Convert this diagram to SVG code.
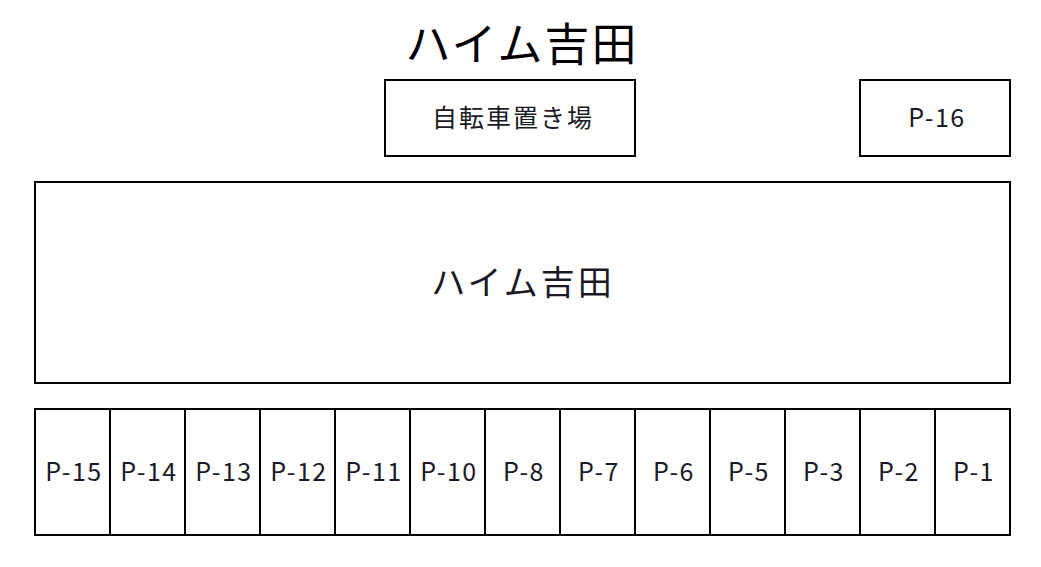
<svg xmlns="http://www.w3.org/2000/svg" width="1041" height="567" viewBox="0 0 1041 567">
<style>
rect{fill:#fff;stroke:#000;stroke-width:2}
text{font-family:"Noto Sans CJK JP","Noto Sans",sans-serif;fill:#1a1a24;text-anchor:middle;dominant-baseline:central}
.l{font-size:25px;letter-spacing:2px}
.b{font-size:34px;letter-spacing:3px}
.p{font-size:25px;letter-spacing:1.5px}
.t{font-size:45px;letter-spacing:2px;fill:#000}
</style>
<rect width="1041" height="567" style="stroke:none"/>
<text class="t" x="522" y="41">ハイム吉田</text>
<g id="bike"><rect x="385" y="80" width="250" height="76"/><text class="l" x="513" y="116">自転車置き場</text></g>
<g id="p16"><rect x="860" y="80" width="150" height="76"/><text class="p" x="937" y="116">P-16</text></g>
<g id="building"><rect x="35" y="182" width="975" height="201"/><text class="b" x="523" y="280">ハイム吉田</text></g>
<g id="parking">
<g id="p15"><rect x="35" y="409" width="75" height="126"/><text class="p" x="74" y="470">P-15</text></g>
<g id="p14"><rect x="110" y="409" width="75" height="126"/><text class="p" x="149" y="470">P-14</text></g>
<g id="p13"><rect x="185" y="409" width="75" height="126"/><text class="p" x="224" y="470">P-13</text></g>
<g id="p12"><rect x="260" y="409" width="75" height="126"/><text class="p" x="299" y="470">P-12</text></g>
<g id="p11"><rect x="335" y="409" width="75" height="126"/><text class="p" x="374" y="470">P-11</text></g>
<g id="p10"><rect x="410" y="409" width="75" height="126"/><text class="p" x="449" y="470">P-10</text></g>
<g id="p8"><rect x="485" y="409" width="75" height="126"/><text class="p" x="524" y="470">P-8</text></g>
<g id="p7"><rect x="560" y="409" width="75" height="126"/><text class="p" x="599" y="470">P-7</text></g>
<g id="p6"><rect x="635" y="409" width="75" height="126"/><text class="p" x="674" y="470">P-6</text></g>
<g id="p5"><rect x="710" y="409" width="75" height="126"/><text class="p" x="749" y="470">P-5</text></g>
<g id="p3"><rect x="785" y="409" width="75" height="126"/><text class="p" x="824" y="470">P-3</text></g>
<g id="p2"><rect x="860" y="409" width="75" height="126"/><text class="p" x="899" y="470">P-2</text></g>
<g id="p1"><rect x="935" y="409" width="75" height="126"/><text class="p" x="974" y="470">P-1</text></g>
</g>
<g id="connectors"/>
</svg>
